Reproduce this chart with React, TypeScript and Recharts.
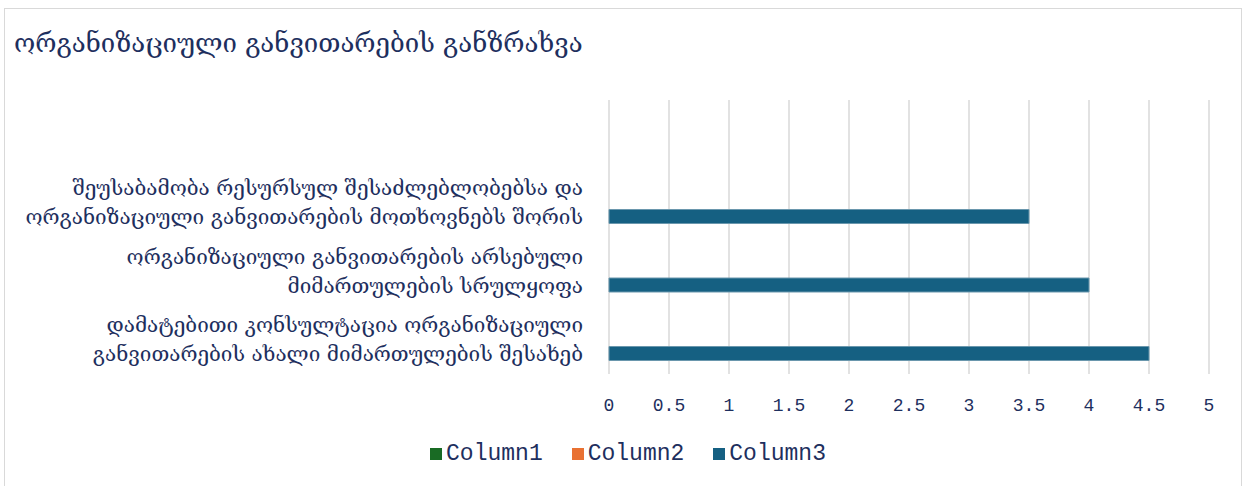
import React from "react";
import { Bar, BarChart, CartesianGrid, XAxis, YAxis } from "recharts";

const categories = [
  "",
  "შეუსაბამობა რესურსულ შესაძლებლობებსა და\nორგანიზაციული განვითარების მოთხოვნებს შორის",
  "ორგანიზაციული განვითარების არსებული\nმიმართულების სრულყოფა",
  "დამატებითი კონსულტაცია ორგანიზაციული\nგანვითარების ახალი მიმართულების შესახებ",
];
const column1: (number | null)[] = [null, null, null, null];
const column2: (number | null)[] = [null, null, null, null];
const column3: (number | null)[] = [null, 3.5, 4, 4.5];
const xTicks = [0, 0.5, 1, 1.5, 2, 2.5, 3, 3.5, 4, 4.5, 5];
const seriesNames = ["Column1", "Column2", "Column3"];
const seriesColors = ["#196B24", "#E97132", "#156082"];

const title = "ორგანიზაციული განვითარების განზრახვა";
const textColor = "#1e2f5e";
const georgianFont = '"DejaVu Serif", serif';
const monoFont = '"Liberation Mono", "DejaVu Sans Mono", monospace';

const data = categories.map((name, i) => ({
  name,
  Column1: column1[i],
  Column2: column2[i],
  Column3: column3[i],
}));

function CategoryTick(props: any) {
  const { x, y, payload } = props;
  const lines = String(payload.value).split("\n").filter((l) => l.length > 0);
  const lineHeight = 29;
  const startY = y - ((lines.length - 1) * lineHeight) / 2;
  return (
    <text
      x={x - 18}
      y={startY}
      textAnchor="end"
      dominantBaseline="central"
      fill={textColor}
      fontFamily={georgianFont}
      fontSize={20.7}
    >
      {lines.map((line, i) => (
        <tspan key={i} x={x - 18} y={startY + i * lineHeight} dominantBaseline="central">
          {line}
        </tspan>
      ))}
    </text>
  );
}

export default function App() {
  return (
    <div style={{ position: "absolute", left: 0, top: 0, width: 1244, height: 486, background: "#fff", overflow: "hidden" }}>
      <div
        style={{
          position: "absolute",
          left: 4,
          top: 8,
          width: 1238,
          height: 490,
          border: "1.5px solid #d9d9d9",
          boxSizing: "border-box",
        }}
      />
      <div
        style={{
          position: "absolute",
          left: 14,
          top: 28,
          fontFamily: georgianFont,
          fontSize: 25.8,
          color: textColor,
          whiteSpace: "nowrap",
        }}
      >
        {title}
      </div>
      <div style={{ position: "absolute", left: 0, top: 0 }}>
        <BarChart
          width={1244}
          height={486}
          data={data}
          layout="vertical"
          margin={{ top: 100, right: 35, bottom: 82, left: 0 }}
          barCategoryGap="19%"
          barGap={0}
        >
          <CartesianGrid horizontal={false} stroke="#d9d9d9" strokeWidth={1.5} />
          <XAxis
            type="number"
            domain={[0, 5]}
            ticks={xTicks}
            axisLine={false}
            tickLine={false}
            tick={{ fill: textColor, fontFamily: monoFont, fontSize: 18 }}
            tickMargin={18}
            interval={0}
          />
          <YAxis
            type="category"
            dataKey="name"
            width={609}
            axisLine={false}
            tickLine={false}
            tick={<CategoryTick />}
            interval={0}
          />
          {seriesNames.map((s, i) => (
            <Bar
              key={s}
              dataKey={s}
              fill={seriesColors[i]}
              stroke={i === 2 ? "#6a97ad" : undefined}
              strokeWidth={1}
              isAnimationActive={false}
            />
          ))}
        </BarChart>
      </div>
      {/* legend */}
      <div style={{ position: "absolute", left: 6, top: 441, width: 1244, display: "flex", justifyContent: "center", gap: 29 }}>
        {seriesNames.map((s, i) => (
          <div key={s} style={{ display: "flex", alignItems: "center" }}>
            <span style={{ width: 12, height: 12, background: seriesColors[i], marginRight: 4, display: "inline-block" }} />
            <span style={{ fontFamily: monoFont, fontSize: 23, color: textColor }}>{s}</span>
          </div>
        ))}
      </div>
    </div>
  );
}
